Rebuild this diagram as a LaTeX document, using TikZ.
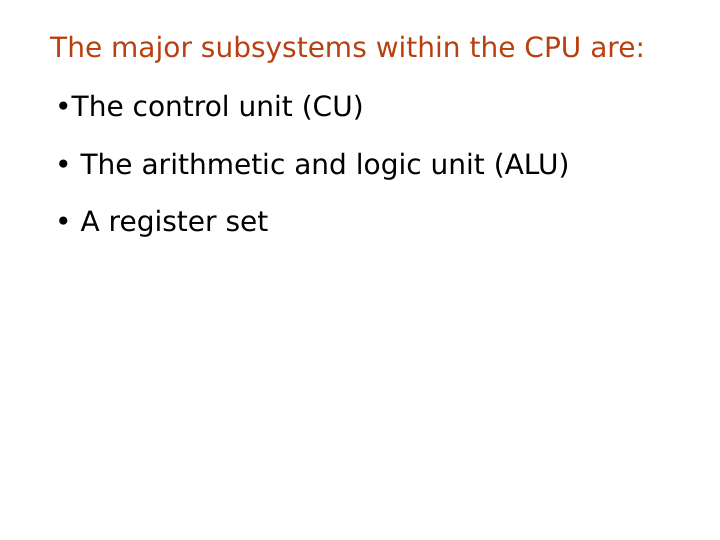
\documentclass[tikz,border=0pt]{standalone}
\usepackage{fontspec}
\setmainfont{DejaVu Sans}
\definecolor{tcol}{RGB}{184,64,16}
\begin{document}
\begin{tikzpicture}[x=1pt,y=-1pt,txt/.style={anchor=base west,inner sep=0pt,font=\fontsize{28}{32}\selectfont}]
\useasboundingbox (0,0) rectangle (720,540);
\node[txt,text=tcol] (t) at (50,58) {The major subsystems within the CPU are:};
\node[txt] (a) at (55,117) {•The control unit (CU)};
\node[txt] (b) at (55,175) {• The arithmetic and logic unit (ALU)};
\node[txt] (c) at (55,231) {• A register set};
\end{tikzpicture}
\end{document}
